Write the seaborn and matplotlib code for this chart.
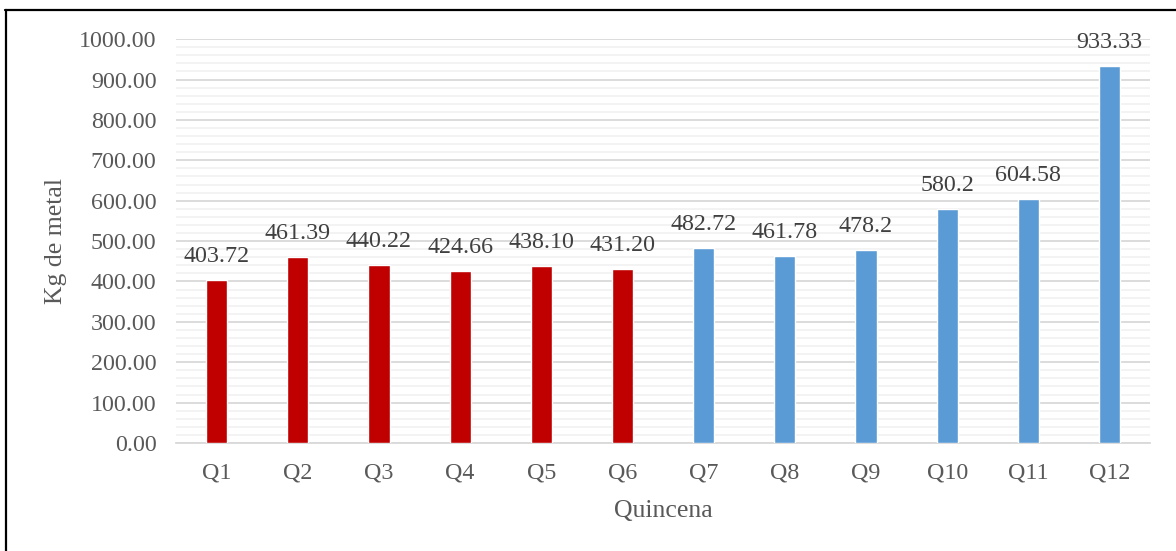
import matplotlib
matplotlib.use("Agg")
import matplotlib.pyplot as plt
from matplotlib.lines import Line2D
from matplotlib.ticker import MultipleLocator, FormatStrFormatter
import seaborn as sns
import pandas as pd

# Fortnightly metal output (kg)
quincenas = ["Q1", "Q2", "Q3", "Q4", "Q5", "Q6", "Q7", "Q8", "Q9", "Q10", "Q11", "Q12"]
kg_metal = [403.72, 461.39, 440.22, 424.66, 438.10, 431.20,
            482.72, 461.78, 478.2, 580.2, 604.58, 933.33]
value_labels = ["403.72", "461.39", "440.22", "424.66", "438.10", "431.20",
                "482.72", "461.78", "478.2", "580.2", "604.58", "933.33"]
bar_colors = ["#C00000"] * 6 + ["#5B9BD5"] * 6

sns.set_theme(style="white")
plt.rcParams["font.family"] = ["Liberation Serif", "DejaVu Serif"]

df = pd.DataFrame({"Quincena": quincenas, "Kg": kg_metal})

fig = plt.figure(figsize=(11.76, 5.51), dpi=100)
ax = fig.add_axes([0.1497, 0.196, 0.8283, 0.733])

sns.barplot(data=df, x="Quincena", y="Kg", hue="Quincena",
            palette=bar_colors, width=0.26, legend=False, ax=ax,
            saturation=1, zorder=3)

ax.set_ylim(0, 1000)
ax.set_xlim(-0.5, len(quincenas) - 0.5)
ax.yaxis.set_major_locator(MultipleLocator(100))
ax.yaxis.set_minor_locator(MultipleLocator(20))
ax.yaxis.set_major_formatter(FormatStrFormatter("%.2f"))
ax.grid(axis="y", which="major", color="#D9D9D9", linewidth=1.3, zorder=0)
ax.grid(axis="y", which="minor", color="#F2F2F2", linewidth=1.3, zorder=0)
ax.set_axisbelow(True)

for side in ["left", "right", "top"]:
    ax.spines[side].set_visible(False)
ax.spines["bottom"].set_color("#D9D9D9")
ax.spines["bottom"].set_linewidth(1.3)

ax.tick_params(axis="y", which="both", length=0, pad=14,
               labelsize=17.3, labelcolor="#595959")
ax.tick_params(axis="x", length=0, pad=14, labelsize=17.3, labelcolor="#595959")

ax.set_xlabel("Quincena", fontsize=18.5, color="#595959", labelpad=12)
ax.set_ylabel("Kg de metal", fontsize=18.5, color="#595959", labelpad=9)

for i, (v, lab) in enumerate(zip(kg_metal, value_labels)):
    ax.annotate(lab, xy=(i, v), xytext=(0, 17), textcoords="offset points",
                ha="center", va="center", fontsize=17.3, color="#404040",
                annotation_clip=False)

# Frame lines along the left and top edges of the figure
fig.add_artist(Line2D([5.5 / 1176, 5.5 / 1176], [0, 1 - 9.5 / 551],
                      transform=fig.transFigure, color="black", linewidth=1.6))
fig.add_artist(Line2D([5 / 1176, 1], [1 - 9.5 / 551, 1 - 9.5 / 551],
                      transform=fig.transFigure, color="black", linewidth=1.6))

fig.savefig("out.png", dpi=100)
